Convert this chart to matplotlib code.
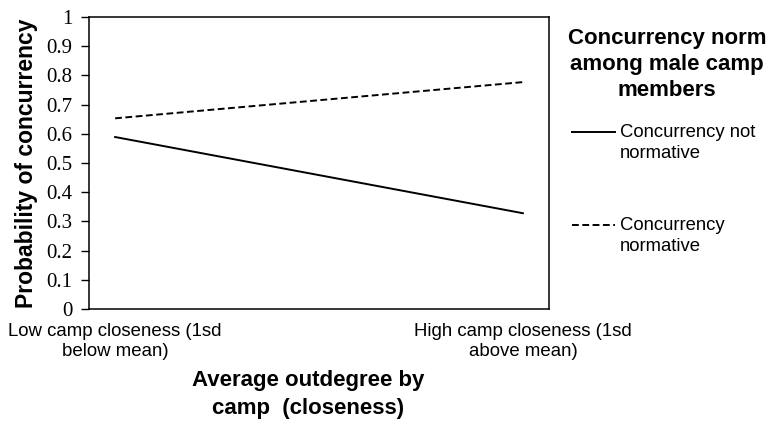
import matplotlib.pyplot as plt
from matplotlib.lines import Line2D
import numpy as np

# Data
categories = ["Low camp closeness (1sd\nbelow mean)", "High camp closeness (1sd\nabove mean)"]
not_normative = [0.589, 0.328]
normative = [0.653, 0.777]
yticks = [0, 0.1, 0.2, 0.3, 0.4, 0.5, 0.6, 0.7, 0.8, 0.9, 1]
ytick_labels = ["0", "0.1", "0.2", "0.3", "0.4", "0.5", "0.6", "0.7", "0.8", "0.9", "1"]
series_labels = ["Concurrency not\nnormative", "Concurrency\nnormative"]
legend_title = "Concurrency norm\namong male camp\nmembers"

plt.rcParams['font.family'] = ['Liberation Sans', 'DejaVu Sans']

W, H = 776, 426
fig = plt.figure(figsize=(W / 100, H / 100), dpi=100)
ax = fig.add_axes([89 / W, 1 - 309 / H, 460 / W, 292 / H])

x = np.arange(len(categories))
solid_style = dict(color='black', lw=1.4)
dash_style = dict(color='black', lw=1.4, ls=(0, (3.5, 1.8)))
ax.plot(x, not_normative, **solid_style)
ax.plot(x, normative, **dash_style)

ax.set_xlim(-0.064, 1.064)
ax.set_ylim(0, 1)
ax.set_yticks(yticks)
ax.set_yticklabels(ytick_labels, fontfamily='Liberation Serif', fontsize=15)
ax.tick_params(axis='y', direction='out', length=6, width=1, pad=6)

ax.set_xticks(x)
ax.set_xticklabels(categories, fontsize=13.4, linespacing=1.24)
ax.tick_params(axis='x', length=0, pad=10)

for s in ax.spines.values():
    s.set_linewidth(1.1)

ax.set_xlabel("Average outdegree by\ncamp  (closeness)", fontsize=16, fontweight='bold',
              linespacing=1.43)
ax.xaxis.set_label_coords((308 - 89) / 460, (309 - 370) / 292)
ax.set_ylabel("Probability of concurrency", fontsize=16.5, fontweight='bold', labelpad=6)

# legend drawn by hand to match the original placement
fig.text(667 / W, 1 - 28 / H, legend_title, ha='center', va='top', fontsize=16,
         fontweight='bold', linespacing=1.3)
for lab, style, yp in zip(series_labels, [solid_style, dash_style], [132, 225]):
    fig.add_artist(Line2D([572 / W, 615 / W], [1 - yp / H, 1 - yp / H],
                          transform=fig.transFigure, **style))
    fig.text(620 / W, 1 - (yp - 8) / H, lab, ha='left', va='top', fontsize=13.3,
             linespacing=1.31)

fig.savefig('out.png', dpi=100)
